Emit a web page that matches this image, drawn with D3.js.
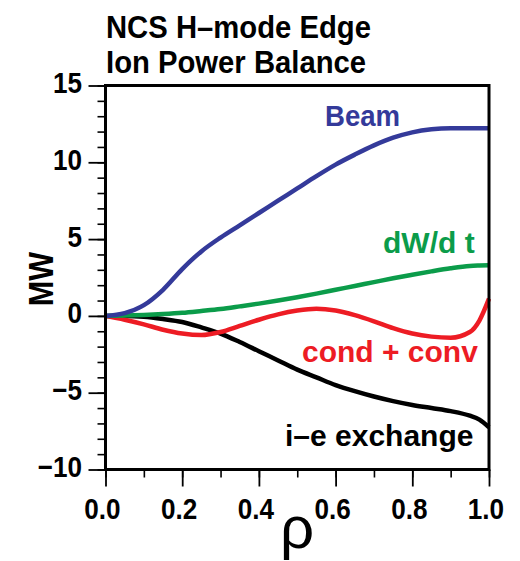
<!DOCTYPE html>
<html>
<head>
<meta charset="utf-8">
<script src="https://cdn.jsdelivr.net/npm/d3@7"></script>
<style>
  html, body { margin: 0; padding: 0; background: #fff; }
  svg { display: block; }
  text { font-family: "Liberation Sans", Arial, Helvetica, sans-serif; }
</style>
</head>
<body>
<svg id="chart" width="520" height="561"></svg>
<script>
// Normalised radius grid shared by every profile
const rho = [0, 0.05, 0.1, 0.15, 0.2, 0.25, 0.3, 0.35, 0.4, 0.45, 0.5,
             0.55, 0.6, 0.65, 0.7, 0.75, 0.8, 0.85, 0.9, 0.95, 0.975, 1.0];

// Ion power terms (MW) integrated out to rho
const beam     = [0, 0.18, 0.7, 1.7, 3.05, 4.2, 5.1, 5.9, 6.7, 7.5, 8.3,
                  9.1, 9.85, 10.5, 11.1, 11.6, 11.95, 12.15, 12.22, 12.22, 12.22, 12.22];
const dWdt     = [0, 0.02, 0.06, 0.12, 0.2, 0.32, 0.45, 0.62, 0.8, 1.0, 1.22,
                  1.45, 1.7, 1.95, 2.2, 2.45, 2.68, 2.9, 3.1, 3.25, 3.28, 3.3];
const condConv = [0, -0.25, -0.55, -0.9, -1.15, -1.25, -1.05, -0.65, -0.25, 0.1, 0.35,
                  0.47, 0.35, 0.05, -0.35, -0.8, -1.15, -1.35, -1.42, -1.05, -0.3, 1.12];
const ieExch   = [0, 0, -0.05, -0.2, -0.4, -0.75, -1.15, -1.7, -2.3, -2.9, -3.5,
                  -4.0, -4.5, -4.9, -5.25, -5.55, -5.8, -6.0, -6.2, -6.5, -6.75, -7.25];

const seriesNames  = ["Beam", "dW/d t", "cond + conv", "i\u2013e exchange"];
const seriesValues = [beam, dWdt, condConv, ieExch];
const seriesColors = ["#343a9a", "#0b9c4a", "#ed1c24", "#000000"];

const xMajorTicks = [0, 0.2, 0.4, 0.6, 0.8, 1.0];
const xTickLabels = ["0.0", "0.2", "0.4", "0.6", "0.8", "1.0"];
const yMajorTicks = [15, 10, 5, 0, -5, -10];
const yTickLabels = ["15", "10", "5", "0", "\u22125", "\u221210"];
const titleLines  = ["NCS H\u2013mode Edge", "Ion Power Balance"];

const svg = d3.select("#chart");

const plot = { left: 105.5, right: 489, top: 85.5, bottom: 469.5 };

const x = d3.scaleLinear().domain([0, 1]).range([plot.left, plot.right]);
const y = d3.scaleLinear().domain([-10, 15]).range([plot.bottom, plot.top]);

// Condensed bold text helper: position, horizontal squeeze
function label(g, str, px, py, opts) {
  return g.append("text")
    .attr("transform", `translate(${px},${py}) scale(${opts.sx || 1},1)`)
    .attr("text-anchor", opts.anchor || "start")
    .attr("font-size", opts.size)
    .attr("font-weight", opts.weight || "bold")
    .attr("fill", opts.fill || "#000")
    .text(str);
}

// Two-line title
titleLines.forEach((s, i) => {
  label(svg, s, 106, 38 + i * 35, { size: 31.3, sx: 0.935 });
});

// Minor and major ticks (outside the frame)
const axisG = svg.append("g");

axisG.append("g")
  .attr("transform", `translate(${plot.left},0)`)
  .call(d3.axisLeft(y).tickValues(d3.range(-10, 16, 1)).tickSize(8).tickFormat(""))
  .call(g => g.select(".domain").remove())
  .call(g => g.selectAll("line").attr("stroke", "#000").attr("stroke-width", 1.6));

axisG.append("g")
  .attr("transform", `translate(${plot.left},0)`)
  .call(d3.axisLeft(y).tickValues(yMajorTicks).tickSize(17).tickFormat(""))
  .call(g => g.select(".domain").remove())
  .call(g => g.selectAll("line").attr("stroke", "#000").attr("stroke-width", 1.8));

axisG.append("g")
  .attr("transform", `translate(0,${plot.bottom})`)
  .call(d3.axisBottom(x).tickValues(d3.range(0, 1.01, 0.1)).tickSize(8).tickFormat(""))
  .call(g => g.select(".domain").remove())
  .call(g => g.selectAll("line").attr("stroke", "#000").attr("stroke-width", 1.6));

axisG.append("g")
  .attr("transform", `translate(0,${plot.bottom})`)
  .call(d3.axisBottom(x).tickValues(xMajorTicks).tickSize(17).tickFormat(""))
  .call(g => g.select(".domain").remove())
  .call(g => g.selectAll("line").attr("stroke", "#000").attr("stroke-width", 1.8));

// Tick labels
xMajorTicks.forEach((v, i) => {
  label(svg, xTickLabels[i], x(v) - 3, 519, { size: 29, sx: 0.9, anchor: "middle" });
});
yMajorTicks.forEach((v, i) => {
  label(svg, yTickLabels[i], 82, y(v) + 7.5, { size: 29, sx: 0.9, anchor: "end" });
});

// Axis titles
svg.append("text")
  .attr("transform", "translate(53,279) rotate(-90) scale(0.85,1)")
  .attr("text-anchor", "middle")
  .attr("font-size", 36)
  .attr("font-weight", "bold")
  .text("MW");

svg.append("text")
  .attr("x", 297).attr("y", 548)
  .attr("text-anchor", "middle")
  .attr("font-size", 60)
  .text("\u03c1");

// Curves
const line = d3.line()
  .x(d => x(d[0]))
  .y(d => y(d[1]))
  .curve(d3.curveMonotoneX);

const curves = svg.append("g");
// black first so the coloured profiles sit on top near the origin
[3, 2, 1, 0].forEach(k => {
  curves.append("path")
    .datum(rho.map((r, i) => [r, seriesValues[k][i]]))
    .attr("fill", "none")
    .attr("stroke", seriesColors[k])
    .attr("stroke-width", 4.5)
    .attr("stroke-linejoin", "round")
    .attr("stroke-linecap", "butt")
    .attr("d", line);
});

// Frame
svg.append("rect")
  .attr("x", plot.left).attr("y", plot.top)
  .attr("width", plot.right - plot.left)
  .attr("height", plot.bottom - plot.top)
  .attr("fill", "none")
  .attr("stroke", "#000")
  .attr("stroke-width", 3);

// In-plot series labels
const seriesLabelPos = [[325, 126, 0.92], [383, 253, 1.0], [302, 362, 1.0], [285, 446, 1.0]];
seriesNames.forEach((s, k) => {
  const p = seriesLabelPos[k];
  label(svg, s, p[0], p[1], { size: 30, sx: p[2], fill: seriesColors[k] });
});
</script>
</body>
</html>
